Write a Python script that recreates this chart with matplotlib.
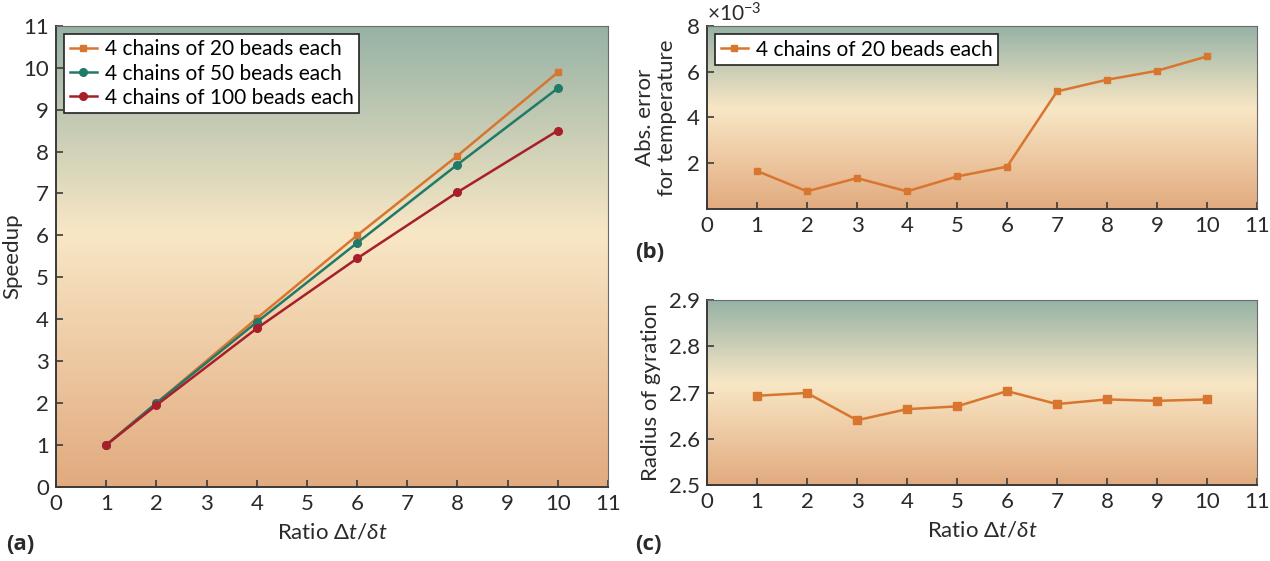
import matplotlib.pyplot as plt
import numpy as np
from matplotlib.colors import LinearSegmentedColormap
from matplotlib.ticker import ScalarFormatter

plt.rcParams['font.family'] = ['Lato', 'DejaVu Sans']
plt.rcParams['mathtext.fontset'] = 'custom'
plt.rcParams['mathtext.rm'] = 'Lato'
plt.rcParams['mathtext.it'] = 'Lato:italic'

# panel (a) speedup
ratio_a = [1, 2, 4, 6, 8, 10]
speed_20 = [1.0, 2.0, 4.02, 6.0, 7.9, 9.89]
speed_50 = [1.0, 2.0, 3.93, 5.82, 7.69, 9.51]
speed_100 = [1.0, 1.95, 3.78, 5.45, 7.03, 8.5]

# panel (b) abs. error, panel (c) radius of gyration
ratio_bc = [1, 2, 3, 4, 5, 6, 7, 8, 9, 10]
abs_err = [1.66e-3, 0.77e-3, 1.35e-3, 0.77e-3, 1.42e-3, 1.85e-3, 5.14e-3, 5.65e-3, 6.04e-3, 6.67e-3]
gyration = [2.693, 2.699, 2.640, 2.664, 2.670, 2.703, 2.675, 2.685, 2.682, 2.685]

c_orange = '#d8762f'
c_teal = '#217a68'
c_red = '#a71f2b'
c_text = '#2a2a2a'

bg = LinearSegmentedColormap.from_list('bg', [(0, '#e2aa7f'), (0.55, '#f8e7c5'), (1, '#96b2a5')])
grad = np.linspace(0, 1, 256).reshape(-1, 1)


def style(ax):
    ax.imshow(grad, cmap=bg, aspect='auto', origin='lower', extent=[0, 1, 0, 1],
              transform=ax.transAxes, zorder=0)
    for s in ['left', 'bottom']:
        ax.spines[s].set_color('#3a3a3a')
        ax.spines[s].set_linewidth(1.4)
    for s in ['top', 'right']:
        ax.spines[s].set_color('#6a6a6a')
        ax.spines[s].set_linewidth(0.8)
    ax.tick_params(direction='in', length=5, width=1.2, colors='#3a3a3a',
                   labelsize=16, labelcolor=c_text, pad=5)
    ax.set_xlim(0, 11)
    ax.set_xticks(range(0, 12))


fig = plt.figure(figsize=(12.7, 5.61), dpi=100)

ax1 = fig.add_axes([0.0441, 0.132, 0.4346, 0.822])
style(ax1)
ax1.plot(ratio_a, speed_20, color=c_orange, marker='s', ms=5, lw=1.8, label='4 chains of 20 beads each')
ax1.plot(ratio_a, speed_50, color=c_teal, marker='o', ms=5.5, lw=1.8, label='4 chains of 50 beads each')
ax1.plot(ratio_a, speed_100, color=c_red, marker='o', ms=5.5, lw=1.8, label='4 chains of 100 beads each')
ax1.set_ylim(0, 11)
ax1.set_yticks(range(0, 12))
ax1.set_ylabel('Speedup', fontsize=16, color=c_text, labelpad=1)
ax1.set_xlabel(r'Ratio $\Delta t/\delta t$', fontsize=16, color=c_text, labelpad=6)
leg = ax1.legend(loc='upper left', fontsize=15, fancybox=False, edgecolor='#222222',
                 framealpha=1, handlelength=1.3, handletextpad=0.4, borderpad=0.25,
                 labelspacing=0.2, borderaxespad=0.4)
leg.get_frame().set_linewidth(1.2)

ax2 = fig.add_axes([0.5567, 0.6275, 0.4331, 0.3262])
style(ax2)
ax2.plot(ratio_bc, abs_err, color=c_orange, marker='s', ms=5, lw=1.8, label='4 chains of 20 beads each')
ax2.set_ylim(0, 8e-3)
ax2.set_yticks([2e-3, 4e-3, 6e-3, 8e-3])
fmt = ScalarFormatter(useMathText=True)
fmt.set_powerlimits((-2, 2))
ax2.yaxis.set_major_formatter(fmt)
ax2.yaxis.get_offset_text().set_fontsize(15)
ax2.yaxis.get_offset_text().set_color(c_text)
ax2.set_ylabel('Abs. error\nfor temperature', fontsize=16, color=c_text, labelpad=6, linespacing=1.15)
leg2 = ax2.legend(loc='upper left', fontsize=15, fancybox=False, edgecolor='#222222',
                  framealpha=1, handlelength=1.3, handletextpad=0.4, borderpad=0.25,
                  borderaxespad=0.4)
leg2.get_frame().set_linewidth(1.2)

ax3 = fig.add_axes([0.5567, 0.1355, 0.4331, 0.3297])
style(ax3)
ax3.plot(ratio_bc, gyration, color=c_orange, marker='s', ms=6, lw=1.8)
ax3.set_ylim(2.5, 2.9)
ax3.set_yticks([2.5, 2.6, 2.7, 2.8, 2.9])
ax3.set_ylabel('Radius of gyration', fontsize=16, color=c_text, labelpad=6)
ax3.set_xlabel(r'Ratio $\Delta t/\delta t$', fontsize=16, color=c_text, labelpad=6)

lab = dict(fontsize=16, fontweight='bold', color=c_text, family=['Open Sans', 'DejaVu Sans'])
fig.text(0.005, 0.02, '(a)', **lab)
fig.text(0.500, 0.54, '(b)', **lab)
fig.text(0.500, 0.02, '(c)', **lab)

fig.savefig('out.png', dpi=100)
